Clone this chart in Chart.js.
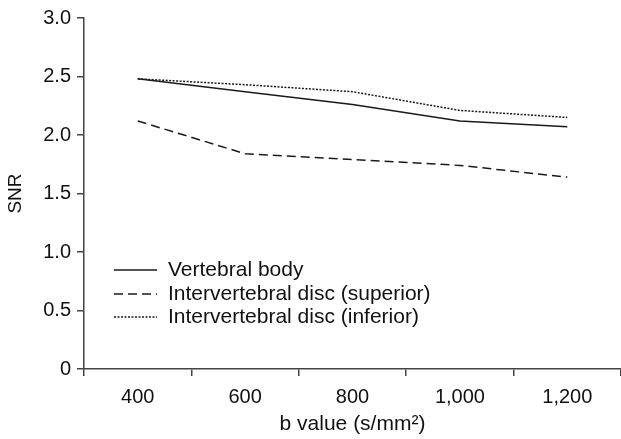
<!DOCTYPE html>
<html lang="en">
<head>
  <meta charset="UTF-8">
  <title>SNR by b value</title>
  <script src="https://cdn.jsdelivr.net/npm/chart.js"></script>
  <style>
    html, body { margin: 0; padding: 0; background: #fff; }
    #wrap { width: 621px; height: 439px; }
  </style>
</head>
<body>
  <div id="wrap"><canvas id="snrChart"></canvas></div>

  <script>
    // b values (s/mm2)
    const bValues = ['400', '600', '800', '1,000', '1,200'];
    // SNR
    const vertebralBody = [2.48, 2.37, 2.26, 2.12, 2.07];
    const discSuperior = [2.12, 1.84, 1.79, 1.74, 1.64];
    const discInferior = [2.48, 2.43, 2.37, 2.21, 2.15];
    const yTicks = [0, 0.5, 1.0, 1.5, 2.0, 2.5, 3.0];

    const FONT = 'Liberation Sans, Arial, sans-serif';
    const axisColor = '#444';
    const lineColor = '#1a1a1a';

    // legend sits inside the plot, lower left
    const innerLegend = {
      id: 'innerLegend',
      afterDraw(chart) {
        const c = chart.ctx;
        const x0 = 114, x1 = 157, tx = 168;
        const rows = [270, 294, 317];
        chart.data.datasets.forEach((ds, i) => {
          const y = rows[i];
          c.save();
          c.strokeStyle = ds.borderColor;
          c.lineWidth = ds.borderWidth;
          c.setLineDash(ds.borderDash || []);
          c.beginPath();
          c.moveTo(x0, y);
          c.lineTo(x1, y);
          c.stroke();
          c.setLineDash([]);
          c.fillStyle = '#111';
          c.font = '21px ' + FONT;
          c.textBaseline = 'middle';
          c.fillText(ds.label, tx, y);
          c.restore();
        });
      }
    };

    const ctx = document.getElementById('snrChart').getContext('2d');
    new Chart(ctx, {
      type: 'line',
      data: {
        labels: bValues,
        datasets: [
          { label: 'Vertebral body', data: vertebralBody, borderColor: lineColor, borderWidth: 1.5 },
          { label: 'Intervertebral disc (superior)', data: discSuperior, borderColor: lineColor, borderWidth: 1.5, borderDash: [9, 5] },
          { label: 'Intervertebral disc (inferior)', data: discInferior, borderColor: lineColor, borderWidth: 1.5, borderDash: [2, 1.5] }
        ]
      },
      options: {
        responsive: true,
        maintainAspectRatio: false,
        animation: false,
        layout: { padding: { top: 16, right: 0, left: 0, bottom: 0 } },
        elements: { point: { radius: 0 }, line: { tension: 0 } },
        plugins: {
          legend: { display: false },
          tooltip: { enabled: false }
        },
        scales: {
          x: {
            offset: true,
            grid: { offset: true, drawOnChartArea: false, drawTicks: true, tickLength: 7, color: axisColor, lineWidth: 1.5 },
            border: { color: axisColor, width: 1.5 },
            ticks: { color: '#111', font: { family: FONT, size: 20 }, padding: 9 },
            title: { display: true, text: 'b value (s/mm\u00B2)', color: '#111', font: { family: FONT, size: 21 }, padding: { top: 2, bottom: 2 } },
            afterFit(scale) { scale.height = 70; }
          },
          y: {
            min: 0,
            max: 3.0,
            afterBuildTicks(scale) { scale.ticks = yTicks.map(v => ({ value: v })); },
            grid: { drawOnChartArea: false, drawTicks: true, tickLength: 7, color: axisColor, lineWidth: 1.5 },
            border: { color: axisColor, width: 1.5 },
            ticks: {
              color: '#111',
              font: { family: FONT, size: 20 },
              padding: 6,
              callback: v => v === 0 ? '0' : v.toFixed(1)
            },
            title: { display: true, text: 'SNR', color: '#111', font: { family: FONT, size: 19 }, padding: { bottom: 2 } },
            afterFit(scale) { scale.width = 84; }
          }
        }
      },
      plugins: [innerLegend]
    });
  </script>
</body>
</html>
